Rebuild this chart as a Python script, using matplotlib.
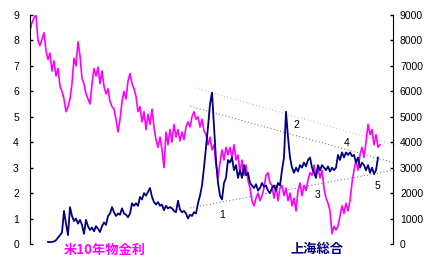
import numpy as np
import matplotlib
matplotlib.use("Agg")
from matplotlib import pyplot as plt

# 米10年物金利 (%)  -- sampled every 2 px of the original chart
us10y = [8.4, 8.7, 8.9, 9.0, 8.0, 7.8, 8.05, 8.3, 7.6, 7.25,
         7.5, 6.8, 7.2, 6.6, 6.9, 6.2, 6.0, 5.7, 5.2, 5.4,
         5.7, 6.3, 7.3, 7.0, 7.95, 7.4, 6.5, 6.3, 5.9, 5.7,
         5.5, 6.3, 6.9, 6.6, 6.95, 6.3, 6.8, 6.2, 5.9, 6.1,
         5.6, 5.4, 5.3, 4.9, 4.4, 4.9, 5.6, 6.0, 5.7, 6.4,
         6.7, 6.3, 6.1, 5.8, 5.2, 5.4, 4.8, 5.2, 4.5, 5.1,
         4.7, 5.3, 4.6, 4.1, 3.8, 4.2, 3.7, 3.0, 4.4, 3.9,
         4.5, 4.0, 4.7, 4.2, 4.5, 4.05, 4.4, 4.1, 4.6, 4.8,
         4.6, 5.0, 5.2, 4.9, 5.0, 4.6, 4.9, 4.45, 4.3, 3.9,
         4.2, 3.7, 3.9, 3.1, 2.6, 3.2, 3.7, 3.3, 3.8, 3.5,
         3.8, 3.4, 3.9, 3.3, 3.5, 2.8, 3.3, 2.7, 3.1, 2.5,
         2.2, 1.7, 1.5, 1.8, 2.0, 1.7, 1.9, 2.2, 2.7, 2.8,
         2.4, 2.3, 1.8, 2.3, 1.7, 2.2, 2.3, 1.9, 2.2, 1.7,
         2.0, 1.5, 1.8, 1.3, 2.1, 2.4, 1.9, 2.3, 2.1, 2.5,
         2.8, 2.7, 3.1, 2.7, 3.0, 2.6, 2.9, 2.2, 1.8, 1.6,
         1.3, 0.4, 0.7, 0.55, 0.7, 1.1, 1.5, 1.2, 1.6, 1.3,
         1.7, 2.4, 2.9, 3.3, 2.9, 3.5, 3.8, 3.4, 4.0, 4.7,
         4.3, 4.5, 3.9, 4.3, 3.8, 3.9]

# 上海総合 (index points), starts later than the yield series
sh_start = 9
shanghai = [80, 80, 80, 100, 150, 250, 350, 450, 1300, 800,
            350, 1450, 1100, 900, 1000, 800, 950, 750, 400, 950,
            700, 550, 650, 500, 700, 600, 470, 700, 850, 750,
            1100, 1200, 1450, 1250, 1100, 1200, 1150, 1400, 1200, 1150,
            1050, 1200, 1600, 1500, 1600, 1500, 1850, 1750, 2000, 1900,
            2050, 2200, 1850, 1650, 1550, 1650, 1500, 1550, 1330, 1500,
            1400, 1450, 1400, 1300, 1250, 1700, 1350, 1250, 1300, 1200,
            1000, 1150, 1100, 1250, 1200, 1600, 1900, 2300, 3000, 3800,
            4600, 5500, 5950, 4600, 3300, 2400, 1900, 1750, 2400, 2600,
            3300, 3200, 3400, 2900, 3100, 2600, 2900, 2600, 3100, 2700,
            2800, 2400, 2300, 2200, 2350, 2100, 2200, 2400, 2250, 2300,
            2100, 2000, 2200, 2300, 2100, 2400, 2300, 2900, 3400, 5200,
            4200, 3400, 3000, 2800, 3000, 2850, 3100, 3000, 3200, 3050,
            3300, 3400, 3000, 2800, 2600, 3100, 2900, 3100, 3000, 2900,
            3050, 2850, 3000, 2900, 3000, 3500, 3300, 3600, 3400, 3600,
            3500, 3600, 3450, 3500, 3200, 3400, 3000, 3200, 3100, 2900,
            3100, 2800, 3000, 2750, 2900, 3400]

# hand drawn trend lines (x index, left-axis value)
trend_upper = ([82.5, 182.5], [6.13, 3.89])
trend_mid = ([80, 182.5], [5.42, 3.18])
trend_low = ([80, 182.5], [1.42, 2.91])

# wave labels
wave_labels = ["1", "2", "3", "4", "5"]
wave_x = [96, 133, 144, 158.5, 173.5]
wave_y = [1.14, 4.68, 1.93, 3.97, 2.28]

plt.rcParams['font.family'] = ['Liberation Sans', 'DejaVu Sans']

fig = plt.figure(figsize=(4.42, 2.69), dpi=100)
ax = fig.add_axes([30 / 442, 25 / 269, 363 / 442, 229 / 269])
ax2 = ax.twinx()

x_us = np.arange(len(us10y))
x_sh = np.arange(len(shanghai)) + sh_start

ax.plot(x_us, us10y, color='#FF00FF', lw=1.2)
ax2.plot(x_sh, shanghai, color='#000080', lw=1.3, zorder=3)

ax.plot(*trend_upper, color='#C0C0C0', lw=0.8, ls=(0, (1, 2)), clip_on=False)
ax.plot(*trend_mid, color='#808080', lw=0.8, ls=(0, (1, 2)), clip_on=False)
ax.plot(*trend_low, color='#808080', lw=0.8, ls=(0, (1, 2)), clip_on=False)

for lab, xx, yy in zip(wave_labels, wave_x, wave_y):
    ax2.text(xx, yy * 1000, lab, fontsize=7.5, ha='center', va='center', color='k')

ax.set_xlim(0, 181.5)
ax.set_ylim(0, 9)
ax2.set_ylim(0, 9000)
ax.set_yticks(range(0, 10))
ax2.set_yticks(range(0, 10000, 1000))
ax.set_xticks([])

for a in (ax, ax2):
    a.spines['top'].set_visible(False)
    a.spines['bottom'].set_visible(False)
    a.patch.set_visible(False)
ax.spines['right'].set_visible(False)
ax2.spines['left'].set_visible(False)

ax.tick_params(axis='y', direction='in', length=2.5, width=1, pad=8, labelsize=7.5)
ax2.tick_params(axis='y', direction='in', length=2.5, width=1, pad=5, labelsize=7.5)

fig.text(105 / 442, 1 - 250 / 269, '米10年物金利', color='#FF00FF', fontsize=9.5,
         fontweight='bold', family=['Noto Sans CJK JP', 'DejaVu Sans'],
         ha='center', va='center')
fig.text(317 / 442, 1 - 249 / 269, '上海総合', color='#000080', fontsize=9.5,
         fontweight='bold', family=['Noto Sans CJK JP', 'DejaVu Sans'],
         ha='center', va='center')

fig.savefig('out.png', dpi=100)
